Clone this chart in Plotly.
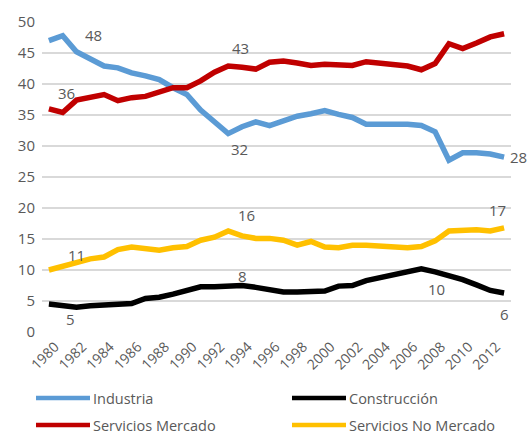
import plotly.graph_objects as go

years = list(range(1980, 2014))

industria = [47.0, 47.8, 45.2, 44.1, 42.9, 42.6, 41.8, 41.3, 40.7, 39.4,
             38.3, 35.8, 34.0, 32.0, 33.1, 33.9, 33.3, 34.0, 34.8, 35.2,
             35.7, 35.1, 34.6, 33.5, 33.5, 33.6, 33.5, 33.3, 32.3, 27.7,
             28.9, 28.9, 28.7, 28.2]
construccion = [4.5, 4.2, 4.0, 4.25, 4.3, 4.4, 4.6, 5.4, 5.6, 6.1,
                6.8, 7.3, 7.3, 7.5, 7.5, 7.2, 6.9, 6.45, 6.45, 6.45,
                6.6, 7.4, 7.5, 8.3, 8.8, 9.1, 9.7, 10.2, 9.7, 9.1,
                8.45, 7.6, 6.7, 6.3]
serv_mercado = [36.0, 35.4, 37.4, 37.8, 38.3, 37.3, 37.8, 38.0, 38.7, 39.4,
                39.4, 40.5, 41.9, 42.9, 42.7, 42.4, 43.5, 43.7, 43.4, 43.0,
                43.2, 43.0, 43.0, 43.6, 43.3, 43.1, 42.9, 42.3, 43.3, 46.5,
                45.7, 46.6, 47.6, 48.1]
serv_no_mercado = [10.0, 10.6, 11.3, 11.8, 12.1, 13.3, 13.7, 13.5, 13.2, 13.6,
                   13.8, 14.8, 15.3, 16.3, 15.5, 15.1, 15.1, 14.8, 14.0, 14.6,
                   13.7, 13.6, 14.0, 14.0, 13.8, 13.8, 13.6, 13.8, 14.7, 16.3,
                   16.4, 16.5, 16.3, 16.8]

series_names = ["Industria", "Construcción", "Servicios Mercado", "Servicios No Mercado"]
series_values = [industria, construccion, serv_mercado, serv_no_mercado]
series_colors = ["#5B9BD5", "#000000", "#C00000", "#FFC000"]

tick_years = list(range(1980, 2014, 2))
tick_labels = [str(y) for y in tick_years]

# data labels: (text, year, value)
label_text = ["48", "36", "43", "32", "48", "28", "11", "5", "16", "8", "17", "10", "6"]
label_x = [1983.2, 1981.3, 1993.9, 1993.8, 2012.2, 2013.0, 1982.0, 1981.6, 1994.3, 1994.0, 2012.5, 2008.1, 2013.0]
label_y = [47.9, 38.5, 45.8, 29.5, 51.1, 28.2, 12.4, 2.05, 18.9, 9.0, 19.7, 6.9, 2.85]
label_xshift = [0, 0, 0, 0, 0, 14, 0, 0, 0, 0, 0, 0, 0]

L, R, T, B = 42, 19, 22, 104
W, H = 530, 436
pw, ph = W - L - R, H - T - B

fig = go.Figure()
for name, vals, col in zip(series_names, series_values, series_colors):
    fig.add_trace(go.Scatter(x=years, y=vals, name=name, mode="lines",
                             line=dict(color=col, width=5.5), showlegend=False))

grey = "#595959"
for t, x, y, xs in zip(label_text, label_x, label_y, label_xshift):
    fig.add_annotation(x=x, y=y, text=t, showarrow=False, xshift=xs,
                       font=dict(size=15, color=grey))

# custom legend (two columns, long line keys)
leg_cols_px = [36, 292]
leg_rows_px = [398, 425]
leg_order = [(0, 0), (1, 0), (0, 1), (1, 1)]  # (col, row) per series
for (c, r), name, col in zip(leg_order, series_names, series_colors):
    x0 = (leg_cols_px[c] - L) / pw
    x1 = (leg_cols_px[c] + 54 - L) / pw
    yy = (H - B - leg_rows_px[r]) / ph
    fig.add_shape(type="line", xref="paper", yref="paper", x0=x0, x1=x1, y0=yy, y1=yy,
                  line=dict(color=col, width=4.5))
    fig.add_annotation(xref="paper", yref="paper", x=(leg_cols_px[c] + 55 - L) / pw, y=yy,
                       text=name, showarrow=False, xanchor="left", yanchor="middle",
                       font=dict(size=14.5, color=grey))

fig.update_layout(
    width=W, height=H,
    margin=dict(l=L, r=R, t=T, b=B),
    plot_bgcolor="white", paper_bgcolor="white",
    font=dict(family="Open Sans", size=14, color=grey),
    showlegend=False,
)
fig.update_xaxes(range=[1979.5, 2013.5], tickmode="array", tickvals=tick_years,
                 ticktext=tick_labels, tickangle=-45, showgrid=False,
                 zeroline=False, showline=False, ticks="", automargin=False,
                 ticklabelshift=6, ticklabelstandoff=3,
                 tickfont=dict(size=14, color=grey))
fig.update_yaxes(range=[0, 50], dtick=5, showgrid=True, gridcolor="#D9D9D9",
                 gridwidth=1.5, zeroline=False, showline=False, ticks="",
                 automargin=False, ticklabelstandoff=6,
                 tickfont=dict(size=15, color=grey))

fig.write_html("out.html", config={"displayModeBar": False},
               post_script="document.body.style.margin='0';document.body.style.overflow='hidden';")
